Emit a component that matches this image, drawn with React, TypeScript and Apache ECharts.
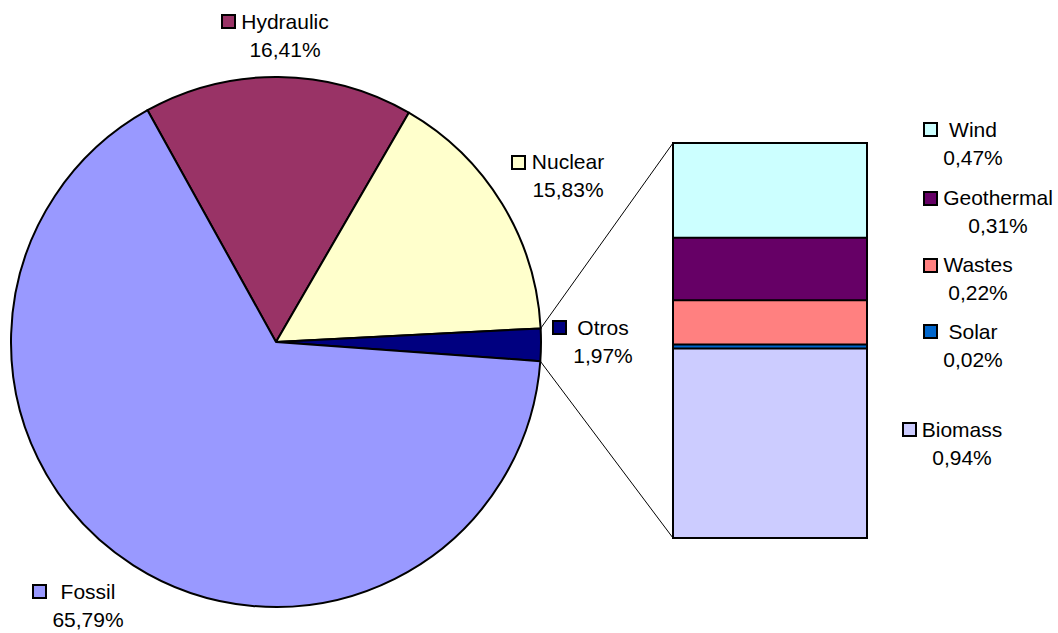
import React, { useEffect, useRef } from "react";
import * as echarts from "echarts";

// ---- data ----
const pieNames = ["Hydraulic", "Nuclear", "Otros", "Fossil"];
const pieValues = [16.41, 15.83, 1.97, 65.79];
const pieColors = ["#993366", "#FFFFCC", "#000080", "#9999FF"];

const barNames = ["Biomass", "Solar", "Wastes", "Geothermal", "Wind"];
const barValues = [0.94, 0.02, 0.22, 0.31, 0.47];
const barColors = ["#CCCCFF", "#0066CC", "#FF8080", "#660066", "#CCFFFF"];

// ---- layout ----
const PIE_CX = 276;
const PIE_CY = 342;
const PIE_R = 265;
const START_ANGLE = 119;
const BAR_BOX = { left: 673, top: 143, width: 194, height: 395 };
const FONT = 21;
const LINE_H = 28;

// label block centres
const labelPos: Record<string, number[]> = {
  Hydraulic: [285, 35],
  Nuclear: [568, 175],
  Otros: [603, 341],
  Fossil: [88, 605],
  Wind: [973, 143],
  Geothermal: [998, 211],
  Wastes: [978, 278],
  Solar: [973, 345],
  Biomass: [962, 443],
};
// legend-key squares (top-left)
const keyPos: Record<string, number[]> = {
  Hydraulic: [222, 15],
  Nuclear: [512, 156],
  Otros: [553, 321],
  Fossil: [33, 585],
  Wind: [924, 123],
  Geothermal: [924, 192],
  Wastes: [924, 259],
  Solar: [924, 325],
  Biomass: [903, 423],
};

const fmt = (v: number) => v.toFixed(2).replace(".", ",") + "%";

export default function App() {
  const ref = useRef<HTMLDivElement>(null);
  useEffect(() => {
    if (!ref.current) return;
    const chart = echarts.init(ref.current, undefined, { renderer: "svg" });

    const textStyle = {
      fontFamily: "Liberation Sans, Arial, sans-serif",
      fontSize: FONT,
      color: "#000",
      lineHeight: LINE_H,
      align: "center",
    };

    const layoutFor = (name: string) => ({
      x: labelPos[name][0],
      y: labelPos[name][1],
      align: "center",
      verticalAlign: "middle",
    });

    // connector lines from the Otros slice to the bar
    const total = pieValues.reduce((a, b) => a + b, 0);
    const oi = pieNames.indexOf("Otros");
    const before = pieValues.slice(0, oi).reduce((a, b) => a + b, 0);
    const a1 = ((START_ANGLE - (before / total) * 360) * Math.PI) / 180;
    const a2 =
      ((START_ANGLE - ((before + pieValues[oi]) / total) * 360) * Math.PI) / 180;
    const p1 = [PIE_CX + PIE_R * Math.cos(a1), PIE_CY - PIE_R * Math.sin(a1)];
    const p2 = [PIE_CX + PIE_R * Math.cos(a2), PIE_CY - PIE_R * Math.sin(a2)];

    const keys = [
      ...pieNames.map((n, i) => ({ n, c: pieColors[i] })),
      ...barNames.map((n, i) => ({ n, c: barColors[i] })),
    ].map(({ n, c }) => ({
      type: "rect",
      shape: { x: keyPos[n][0], y: keyPos[n][1], width: 13, height: 13 },
      style: { fill: c, stroke: "#000", lineWidth: 2 },
      z: 10,
    }));

    const barSum = barValues.reduce((a, b) => a + b, 0);

    const baseGraphic: any[] = [
      {
        type: "line",
        shape: { x1: p1[0], y1: p1[1], x2: BAR_BOX.left, y2: BAR_BOX.top },
        style: { stroke: "#000", lineWidth: 1 },
      },
      {
        type: "line",
        shape: {
          x1: p2[0],
          y1: p2[1],
          x2: BAR_BOX.left,
          y2: BAR_BOX.top + BAR_BOX.height,
        },
        style: { stroke: "#000", lineWidth: 1 },
      },
      {
        type: "rect",
        shape: {
          x: BAR_BOX.left,
          y: BAR_BOX.top,
          width: BAR_BOX.width,
          height: BAR_BOX.height,
        },
        style: { fill: "none", stroke: "#000", lineWidth: 2 },
        z: 20,
      },
      ...keys,
    ];

    chart.setOption({
      animation: false,
      backgroundColor: "#fff",
      grid: {
        left: BAR_BOX.left,
        top: BAR_BOX.top,
        width: BAR_BOX.width,
        height: BAR_BOX.height,
        containLabel: false,
      },
      xAxis: { type: "category", data: ["Otros"], show: false },
      yAxis: { type: "value", min: 0, max: barSum, show: false },
      graphic: baseGraphic,
      series: [
        {
          type: "pie",
          center: [PIE_CX, PIE_CY],
          radius: PIE_R,
          startAngle: START_ANGLE,
          clockwise: true,
          avoidLabelOverlap: false,
          itemStyle: { borderColor: "#000", borderWidth: 2 },
          label: {
            show: true,
            position: "outside",
            formatter: (p: any) => `${p.name}\n${fmt(p.value)}`,
            ...textStyle,
          },
          labelLine: { show: false },
          labelLayout: (p: any) => layoutFor(pieNames[p.dataIndex]),
          emphasis: { disabled: true },
          data: pieNames.map((n, i) => ({
            name: n,
            value: pieValues[i],
            itemStyle: { color: pieColors[i] },
          })),
        },
        ...barNames.map((n, i) => ({
          type: "bar",
          name: n,
          stack: "otros",
          barWidth: "100%",
          itemStyle: { color: barColors[i], borderWidth: 0 },
          label: {
            show: true,
            formatter: () => `${n}\n${fmt(barValues[i])}`,
            ...textStyle,
          },
          labelLayout: () => layoutFor(n),
          emphasis: { disabled: true },
          data: [barValues[i]],
        })),
      ],
    } as any);

    // segment separators placed through the value axis
    const separators: any[] = [];
    let cum = 0;
    for (let i = 0; i < barValues.length - 1; i++) {
      cum += barValues[i];
      const pt = chart.convertToPixel({ gridIndex: 0 }, ["Otros", cum]) as number[];
      separators.push({
        type: "line",
        shape: {
          x1: BAR_BOX.left,
          y1: pt[1],
          x2: BAR_BOX.left + BAR_BOX.width,
          y2: pt[1],
        },
        style: { stroke: "#000", lineWidth: 2 },
        z: 15,
      });
    }
    chart.setOption({ graphic: [...baseGraphic, ...separators] } as any);

    return () => chart.dispose();
  }, []);

  return (
    <div
      ref={ref}
      style={{ position: "absolute", left: 0, top: 0, width: 1058, height: 633 }}
    />
  );
}
